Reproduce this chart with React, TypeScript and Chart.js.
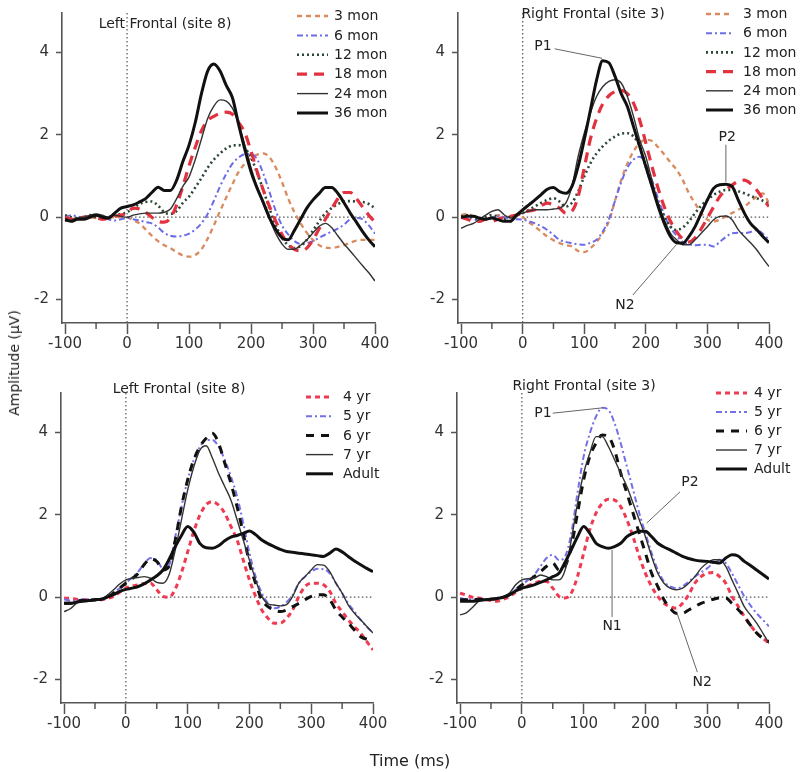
import React, { useEffect, useRef } from 'react';
import { Chart, registerables } from 'chart.js';

Chart.register(...registerables);

// ---------------- DATA ----------------
const TIME_MS = [
  -100, -90, -80, -70, -60, -50, -40, -30, -20, -10,
  0, 10, 20, 30, 40, 50, 60, 70, 80, 90,
  100, 110, 120, 130, 140, 150, 160, 170, 180, 190,
  200, 210, 220, 230, 240, 250, 260, 270, 280, 290,
  300, 310, 320, 330, 340, 350, 360, 370, 380, 390, 400,
];
const X_TICKS = [-100, -50, 0, 50, 100, 150, 200, 250, 300, 350, 400];
const Y_TICKS = [-2, 0, 2, 4];

const MONTH_LABELS = ['3 mon', '6 mon', '12 mon', '18 mon', '24 mon', '36 mon'];
const YEAR_LABELS = ['4 yr', '5 yr', '6 yr', '7 yr', 'Adult'];

// Left Frontal (site 8), infants/toddlers
const LF_3MON = [-0.05, -0.08, -0.02, 0, 0, -0.02, -0.05, -0.02, 0, 0, 0, -0.08, -0.15, -0.3, -0.45, -0.58, -0.68, -0.75, -0.85, -0.93, -0.96, -0.92, -0.78, -0.52, -0.2, 0.15, 0.48, 0.8, 1.1, 1.3, 1.43, 1.52, 1.55, 1.45, 1.2, 0.85, 0.45, 0.12, -0.15, -0.38, -0.55, -0.68, -0.74, -0.75, -0.72, -0.68, -0.62, -0.57, -0.55, -0.55, -0.55];
const LF_6MON = [0, 0.05, 0.02, -0.02, 0, 0.05, 0.02, -0.05, -0.08, -0.05, -0.02, -0.05, -0.08, -0.12, -0.15, -0.25, -0.38, -0.45, -0.47, -0.45, -0.4, -0.3, -0.15, 0.08, 0.4, 0.75, 1.05, 1.3, 1.45, 1.53, 1.54, 1.4, 1.05, 0.6, 0.15, -0.2, -0.42, -0.58, -0.65, -0.63, -0.58, -0.5, -0.42, -0.35, -0.28, -0.18, -0.05, -0.02, -0.05, -0.2, -0.4];
const LF_12MON = [0.05, 0, -0.02, 0, 0.05, 0, -0.02, 0, 0.05, 0.08, 0.12, 0.22, 0.32, 0.37, 0.38, 0.28, 0.12, 0.08, 0.15, 0.35, 0.5, 0.72, 0.95, 1.2, 1.4, 1.55, 1.67, 1.74, 1.75, 1.68, 1.45, 1.07, 0.65, 0.2, -0.2, -0.5, -0.68, -0.75, -0.7, -0.55, -0.32, -0.1, 0.1, 0.22, 0.32, 0.38, 0.39, 0.38, 0.37, 0.32, 0.22];
const LF_18MON = [0, -0.05, -0.05, 0, 0, -0.02, -0.05, -0.02, 0.02, 0.05, 0.1, 0.22, 0.2, 0.12, 0, -0.1, -0.12, -0.02, 0.3, 0.75, 1.25, 1.7, 2.1, 2.35, 2.45, 2.52, 2.55, 2.5, 2.3, 2.05, 1.6, 1.1, 0.65, 0.25, -0.1, -0.42, -0.65, -0.78, -0.82, -0.75, -0.55, -0.28, -0.05, 0.2, 0.45, 0.6, 0.6, 0.45, 0.25, 0.05, -0.12];
const LF_24MON = [-0.1, -0.08, -0.02, 0, 0.05, 0.08, 0.05, 0, 0.05, 0.02, 0, 0.05, 0.08, 0.1, 0.1, 0.1, 0.12, 0.2, 0.45, 0.75, 0.98, 1.4, 1.9, 2.4, 2.7, 2.85, 2.82, 2.65, 2.25, 1.75, 1.2, 0.72, 0.3, -0.05, -0.4, -0.65, -0.78, -0.78, -0.68, -0.55, -0.38, -0.22, -0.15, -0.25, -0.45, -0.65, -0.82, -1.0, -1.18, -1.35, -1.55];
const LF_36MON = [-0.05, -0.1, -0.05, -0.05, 0, 0.05, 0, -0.02, 0.1, 0.22, 0.26, 0.3, 0.37, 0.45, 0.6, 0.73, 0.65, 0.65, 0.9, 1.35, 1.75, 2.3, 3.0, 3.55, 3.72, 3.55, 3.2, 2.9, 2.25, 1.65, 1.1, 0.7, 0.35, -0.02, -0.3, -0.5, -0.55, -0.32, -0.05, 0.22, 0.42, 0.58, 0.72, 0.72, 0.58, 0.35, 0.1, -0.12, -0.35, -0.55, -0.72];

// Right Frontal (site 3), infants/toddlers
const RF_3MON = [0.05, 0.08, 0.02, -0.05, -0.05, 0, 0.05, 0.02, 0, 0.02, 0, -0.12, -0.23, -0.35, -0.47, -0.56, -0.63, -0.68, -0.71, -0.82, -0.85, -0.75, -0.6, -0.39, -0.1, 0.4, 0.9, 1.3, 1.6, 1.8, 1.88, 1.85, 1.7, 1.52, 1.33, 1.15, 0.9, 0.58, 0.34, 0.1, -0.06, -0.1, -0.06, 0.02, 0.1, 0.18, 0.26, 0.38, 0.5, 0.58, 0.34];
const RF_6MON = [0, 0, -0.05, -0.08, -0.05, 0, 0.02, 0, -0.05, -0.05, -0.06, -0.1, -0.15, -0.22, -0.31, -0.43, -0.55, -0.6, -0.63, -0.66, -0.67, -0.62, -0.55, -0.35, -0.05, 0.4, 0.85, 1.2, 1.4, 1.47, 1.3, 0.9, 0.45, 0.05, -0.25, -0.45, -0.6, -0.66, -0.68, -0.67, -0.67, -0.71, -0.6, -0.48, -0.39, -0.38, -0.39, -0.36, -0.31, -0.4, -0.55];
const RF_12MON = [0.02, 0.05, 0, -0.05, 0, 0.05, 0, -0.05, 0.02, 0.05, 0.1, 0.18, 0.26, 0.35, 0.42, 0.46, 0.38, 0.26, 0.35, 0.62, 0.99, 1.31, 1.55, 1.72, 1.86, 1.96, 2.03, 2.04, 1.96, 1.72, 1.23, 0.75, 0.34, 0.02, -0.23, -0.31, -0.25, -0.1, 0.1, 0.28, 0.42, 0.54, 0.62, 0.66, 0.66, 0.63, 0.58, 0.52, 0.46, 0.4, 0.32];
const RF_18MON = [0, -0.05, -0.1, -0.1, -0.05, -0.1, -0.05, 0, 0.02, 0.05, 0.1, 0.15, 0.18, 0.28, 0.34, 0.3, 0.22, 0.1, 0.15, 0.5, 1.2, 1.9, 2.4, 2.75, 2.95, 3.05, 3.08, 3.0, 2.77, 2.36, 1.8, 1.23, 0.7, 0.25, -0.1, -0.35, -0.53, -0.6, -0.5, -0.28, -0.02, 0.25, 0.5, 0.66, 0.78, 0.87, 0.9, 0.82, 0.66, 0.45, 0.26];
const RF_24MON = [-0.27, -0.2, -0.15, -0.05, 0.05, 0.14, 0.18, 0.06, -0.02, 0.05, 0.1, 0.15, 0.18, 0.18, 0.18, 0.2, 0.22, 0.34, 0.75, 1.47, 2.04, 2.53, 2.93, 3.17, 3.3, 3.34, 3.26, 2.93, 2.45, 1.88, 1.47, 0.9, 0.34, -0.06, -0.39, -0.55, -0.67, -0.67, -0.55, -0.39, -0.23, -0.06, 0.02, 0.03, -0.06, -0.3, -0.47, -0.62, -0.79, -1.0, -1.2];
const RF_36MON = [0, 0.02, 0.02, -0.02, -0.05, -0.02, -0.06, -0.1, -0.1, 0.05, 0.18, 0.3, 0.42, 0.55, 0.68, 0.72, 0.62, 0.58, 0.75, 1.23, 1.88, 2.6, 3.33, 3.8, 3.75, 3.42, 3.0, 2.69, 2.2, 1.72, 1.23, 0.75, 0.26, -0.15, -0.47, -0.62, -0.63, -0.47, -0.23, 0.1, 0.42, 0.7, 0.79, 0.8, 0.75, 0.42, 0.1, -0.15, -0.3, -0.47, -0.62];

// Left Frontal (site 8), children/adults
const LF_4YR = [-0.02, -0.03, -0.05, -0.06, -0.06, -0.06, -0.06, -0.03, 0.02, 0.12, 0.22, 0.27, 0.3, 0.33, 0.34, 0.18, 0.02, 0, 0.2, 0.6, 1.1, 1.6, 2.0, 2.25, 2.32, 2.24, 2.04, 1.72, 1.39, 0.9, 0.42, 0.02, -0.31, -0.51, -0.63, -0.63, -0.51, -0.31, 0.02, 0.26, 0.34, 0.34, 0.3, 0.14, -0.15, -0.35, -0.55, -0.72, -0.87, -1.08, -1.28];
const LF_5YR = [-0.05, -0.08, -0.08, -0.05, -0.05, -0.05, -0.06, 0, 0.1, 0.22, 0.34, 0.48, 0.62, 0.82, 0.95, 0.9, 0.7, 0.78, 1.47, 2.2, 2.85, 3.34, 3.66, 3.82, 3.82, 3.66, 3.34, 2.93, 2.45, 1.8, 1.07, 0.5, 0.1, -0.15, -0.27, -0.23, -0.12, 0.06, 0.34, 0.5, 0.62, 0.69, 0.68, 0.58, 0.34, 0.1, -0.15, -0.35, -0.55, -0.72, -0.87];
const LF_6YR = [-0.15, -0.15, -0.1, -0.08, -0.08, -0.06, -0.05, 0, 0.1, 0.22, 0.34, 0.45, 0.58, 0.8, 0.93, 0.87, 0.66, 0.75, 1.39, 2.2, 2.85, 3.34, 3.66, 3.86, 3.98, 3.74, 3.26, 2.77, 2.2, 1.55, 0.83, 0.34, -0.06, -0.23, -0.31, -0.35, -0.31, -0.23, -0.15, -0.06, 0.02, 0.06, 0.06, -0.06, -0.31, -0.48, -0.63, -0.8, -0.96, -1.02, -1.04];
const LF_7YR = [-0.35, -0.28, -0.15, -0.1, -0.1, -0.08, -0.05, 0.05, 0.18, 0.32, 0.42, 0.46, 0.48, 0.5, 0.46, 0.36, 0.34, 0.55, 1.15, 1.88, 2.6, 3.17, 3.58, 3.68, 3.38, 3.01, 2.69, 2.36, 1.88, 1.39, 0.9, 0.42, 0.02, -0.16, -0.19, -0.21, -0.18, 0.02, 0.34, 0.5, 0.66, 0.79, 0.78, 0.62, 0.34, 0.1, -0.19, -0.39, -0.55, -0.71, -0.87];
const LF_ADULT = [-0.15, -0.15, -0.12, -0.1, -0.08, -0.06, -0.05, 0, 0.06, 0.14, 0.19, 0.22, 0.26, 0.33, 0.42, 0.52, 0.66, 0.92, 1.23, 1.5, 1.72, 1.58, 1.3, 1.2, 1.19, 1.25, 1.37, 1.46, 1.5, 1.55, 1.61, 1.52, 1.39, 1.3, 1.23, 1.16, 1.11, 1.09, 1.07, 1.05, 1.03, 1.01, 0.99, 1.07, 1.17, 1.1, 0.99, 0.88, 0.79, 0.7, 0.62];

// Right Frontal (site 3), children/adults
const RF_4YR = [0.1, 0.05, 0, -0.02, -0.05, -0.08, -0.1, -0.05, 0.02, 0.12, 0.22, 0.28, 0.34, 0.38, 0.38, 0.22, 0.02, -0.02, 0.1, 0.5, 1.07, 1.64, 2.04, 2.28, 2.38, 2.36, 2.2, 1.88, 1.47, 0.99, 0.58, 0.26, 0.02, -0.15, -0.23, -0.27, -0.15, 0.06, 0.34, 0.5, 0.58, 0.6, 0.5, 0.34, 0.02, -0.22, -0.47, -0.68, -0.87, -1.0, -1.12];
const RF_5YR = [-0.02, -0.05, -0.05, -0.05, -0.05, -0.04, -0.03, 0, 0.06, 0.18, 0.3, 0.42, 0.54, 0.75, 0.95, 1.03, 0.9, 0.99, 1.55, 2.53, 3.42, 3.98, 4.39, 4.6, 4.55, 4.23, 3.74, 3.17, 2.61, 2.04, 1.55, 1.07, 0.66, 0.38, 0.26, 0.22, 0.26, 0.38, 0.5, 0.6, 0.7, 0.83, 0.91, 0.83, 0.58, 0.3, 0.02, -0.2, -0.39, -0.55, -0.71];
const RF_6YR = [-0.06, -0.06, -0.06, -0.05, -0.06, -0.05, -0.03, 0, 0.06, 0.18, 0.3, 0.4, 0.5, 0.62, 0.75, 0.83, 0.66, 0.75, 1.23, 2.04, 2.85, 3.42, 3.74, 3.94, 3.9, 3.58, 3.01, 2.53, 2.04, 1.55, 1.07, 0.58, 0.26, -0.06, -0.27, -0.39, -0.39, -0.31, -0.23, -0.15, -0.1, -0.05, -0.02, -0.02, -0.15, -0.3, -0.47, -0.68, -0.87, -1.0, -1.08];
const RF_7YR = [-0.43, -0.38, -0.25, -0.1, -0.06, -0.04, -0.03, 0.02, 0.1, 0.3, 0.42, 0.45, 0.46, 0.54, 0.5, 0.42, 0.42, 0.66, 1.39, 2.28, 3.01, 3.5, 3.9, 3.9, 3.66, 3.34, 3.01, 2.69, 2.28, 1.88, 1.47, 0.99, 0.58, 0.34, 0.22, 0.18, 0.22, 0.34, 0.5, 0.7, 0.83, 0.91, 0.91, 0.75, 0.42, 0.1, -0.23, -0.43, -0.63, -0.87, -1.12];
const RF_ADULT = [-0.1, -0.1, -0.1, -0.08, -0.06, -0.05, -0.03, 0, 0.06, 0.15, 0.22, 0.26, 0.3, 0.36, 0.42, 0.5, 0.58, 0.85, 1.15, 1.47, 1.72, 1.55, 1.31, 1.23, 1.19, 1.23, 1.31, 1.47, 1.55, 1.6, 1.6, 1.47, 1.31, 1.22, 1.15, 1.07, 0.99, 0.94, 0.9, 0.88, 0.87, 0.85, 0.83, 0.95, 1.03, 1.0, 0.87, 0.77, 0.66, 0.55, 0.44];

// Annotation labels (data coordinates: ms, µV)
const RF_MON_NOTES = [
  { text: 'P1', at: [33, 4.14], from: [52, 4.09], to: [129, 3.86] },
  { text: 'N2', at: [166, -2.13], from: [179, -1.89], to: [250, -0.66] },
  { text: 'P2', at: [332, 1.95], from: [330, 1.76], to: [330, 0.86] },
];
const RF_YR_NOTES = [
  { text: 'P1', at: [34, 4.47], from: [50, 4.47], to: [131, 4.6] },
  { text: 'P2', at: [272, 2.78], from: [256, 2.56], to: [202, 1.8] },
  { text: 'N1', at: [146, -0.72], from: [146, -0.48], to: [146, 1.15] },
  { text: 'N2', at: [292, -2.06], from: [284, -1.82], to: [251, -0.38] },
];

// ---------------- STYLES ----------------
const FONT = '"DejaVu Sans", Verdana, sans-serif';
const STYLE: Record<string, { color: string; width: number; dash: number[] }> = {
  '3 mon': { color: '#d98a5e', width: 2.3, dash: [5, 4] },
  '6 mon': { color: '#6c6ce8', width: 2, dash: [6, 3, 2, 3] },
  '12 mon': { color: '#2c4636', width: 2.6, dash: [2, 3] },
  '18 mon': { color: '#e2323f', width: 3.2, dash: [10, 7] },
  '24 mon': { color: '#333333', width: 1.4, dash: [] },
  '36 mon': { color: '#111111', width: 3, dash: [] },
  '4 yr': { color: '#f03a52', width: 3, dash: [5, 4] },
  '5 yr': { color: '#7470e8', width: 2, dash: [6, 3, 2, 3] },
  '6 yr': { color: '#111111', width: 3, dash: [8, 7] },
  '7 yr': { color: '#333333', width: 1.4, dash: [] },
  'Adult': { color: '#111111', width: 3, dash: [] },
};

type Panel = {
  title: string;
  labels: string[];
  series: number[][];
  notes: { text: string; at: number[]; from: number[]; to: number[] }[];
  box: { left: number; top: number; w: number; h: number };
  area: { left: number; right: number; top: number; bottom: number };
  titlePos: number[];
  legend: { x1: number; x2: number; tx: number; y: number; dy: number };
};

const PANELS: Panel[] = [
  {
    title: 'Left Frontal (site 8)', labels: MONTH_LABELS,
    series: [LF_3MON, LF_6MON, LF_12MON, LF_18MON, LF_24MON, LF_36MON], notes: [],
    box: { left: 0, top: 0, w: 400, h: 372 },
    area: { left: 62, right: 375, top: 13, bottom: 323 },
    titlePos: [165, 24],
    legend: { x1: 297, x2: 328, tx: 334, y: 16, dy: 19.4 },
  },
  {
    title: 'Right Frontal (site 3)', labels: MONTH_LABELS,
    series: [RF_3MON, RF_6MON, RF_12MON, RF_18MON, RF_24MON, RF_36MON], notes: RF_MON_NOTES,
    box: { left: 400, top: 0, w: 400, h: 372 },
    area: { left: 58, right: 369, top: 13, bottom: 323 },
    titlePos: [193, 14],
    legend: { x1: 306, x2: 333, tx: 343, y: 14, dy: 19.2 },
  },
  {
    title: 'Left Frontal (site 8)', labels: YEAR_LABELS,
    series: [LF_4YR, LF_5YR, LF_6YR, LF_7YR, LF_ADULT], notes: [],
    box: { left: 0, top: 372, w: 400, h: 400 },
    area: { left: 61, right: 373, top: 21, bottom: 331 },
    titlePos: [179, 17],
    legend: { x1: 306, x2: 333, tx: 343, y: 25, dy: 19.2 },
  },
  {
    title: 'Right Frontal (site 3)', labels: YEAR_LABELS,
    series: [RF_4YR, RF_5YR, RF_6YR, RF_7YR, RF_ADULT], notes: RF_YR_NOTES,
    box: { left: 400, top: 372, w: 400, h: 400 },
    area: { left: 57, right: 369, top: 21, bottom: 331 },
    titlePos: [184, 14],
    legend: { x1: 316, x2: 347, tx: 354, y: 21, dy: 19 },
  },
];

const Y_AXIS_W = 50;
const X_AXIS_H = 40;

const overlay = {
  id: 'overlay',
  beforeDatasetsDraw(chart: any) {
    const { ctx, chartArea, scales } = chart;
    const x0 = scales.x.getPixelForValue(0);
    const y0 = scales.y.getPixelForValue(0);
    ctx.save();
    ctx.strokeStyle = '#555';
    ctx.lineWidth = 1.2;
    ctx.setLineDash([1.5, 2.5]);
    ctx.beginPath();
    ctx.moveTo(x0, chartArea.top);
    ctx.lineTo(x0, chartArea.bottom);
    ctx.stroke();
    ctx.beginPath();
    ctx.moveTo(x0, y0);
    ctx.lineTo(chartArea.right, y0);
    ctx.stroke();
    ctx.restore();
  },
  afterDraw(chart: any) {
    const opts = chart.options.plugins.overlay;
    const p: Panel = opts.panel;
    const { ctx, chartArea, scales } = chart;
    ctx.save();
    // minor x ticks
    ctx.strokeStyle = '#555';
    ctx.lineWidth = 1.5;
    ctx.setLineDash([]);
    X_TICKS.forEach((v) => {
      if (v % 100 !== 0) {
        const px = scales.x.getPixelForValue(v);
        ctx.beginPath();
        ctx.moveTo(px, chartArea.bottom);
        ctx.lineTo(px, chartArea.bottom + 6);
        ctx.stroke();
      }
    });
    // title
    ctx.fillStyle = '#222';
    ctx.font = `14px ${FONT}`;
    ctx.textAlign = 'center';
    ctx.textBaseline = 'middle';
    ctx.fillText(p.title, p.titlePos[0], p.titlePos[1]);
    // legend
    p.labels.forEach((lab, i) => {
      const st = STYLE[lab];
      const y = p.legend.y + i * p.legend.dy;
      ctx.strokeStyle = st.color;
      ctx.lineWidth = st.width;
      ctx.setLineDash(st.dash);
      ctx.beginPath();
      ctx.moveTo(p.legend.x1, y);
      ctx.lineTo(p.legend.x2, y);
      ctx.stroke();
      ctx.setLineDash([]);
      ctx.fillStyle = '#222';
      ctx.textAlign = 'left';
      ctx.fillText(lab, p.legend.tx, y + 0.5);
    });
    // annotations
    p.notes.forEach((n) => {
      ctx.strokeStyle = '#666';
      ctx.lineWidth = 1;
      ctx.setLineDash([]);
      ctx.beginPath();
      ctx.moveTo(scales.x.getPixelForValue(n.from[0]), scales.y.getPixelForValue(n.from[1]));
      ctx.lineTo(scales.x.getPixelForValue(n.to[0]), scales.y.getPixelForValue(n.to[1]));
      ctx.stroke();
      ctx.fillStyle = '#222';
      ctx.textAlign = 'center';
      ctx.fillText(n.text, scales.x.getPixelForValue(n.at[0]), scales.y.getPixelForValue(n.at[1]));
    });
    ctx.restore();
  },
};

function PanelChart({ panel }: { panel: Panel }) {
  const ref = useRef<HTMLCanvasElement>(null);
  useEffect(() => {
    if (!ref.current) return;
    const { box, area } = panel;
    const datasets = panel.labels.map((lab, i) => {
      const st = STYLE[lab];
      return {
        label: lab,
        data: TIME_MS.map((t, k) => ({ x: t, y: panel.series[i][k] })),
        borderColor: st.color,
        borderWidth: st.width,
        borderDash: st.dash,
        pointRadius: 0,
        fill: false,
        cubicInterpolationMode: 'monotone' as const,
        order: panel.labels.length - i,
      };
    });
    const chart = new Chart(ref.current, {
      type: 'line',
      data: { datasets },
      plugins: [overlay as any],
      options: {
        animation: false,
        responsive: false,
        maintainAspectRatio: false,
        events: [],
        layout: {
          padding: {
            left: area.left - Y_AXIS_W,
            right: box.w - area.right,
            top: area.top,
            bottom: box.h - area.bottom - X_AXIS_H,
          },
        },
        plugins: {
          legend: { display: false },
          tooltip: { enabled: false },
          title: { display: false },
          overlay: { panel },
        } as any,
        scales: {
          x: {
            type: 'linear',
            min: -105,
            max: 400,
            afterBuildTicks: (s: any) => { s.ticks = X_TICKS.map((v) => ({ value: v })); },
            afterFit: (s: any) => { s.height = X_AXIS_H; s.paddingLeft = 0; s.paddingRight = 0; },
            grid: {
              drawOnChartArea: false,
              drawTicks: true,
              tickLength: 11,
              tickWidth: 1.5,
              tickColor: (c: any) => (c.tick && c.tick.value % 100 === 0 ? '#555' : 'rgba(0,0,0,0)'),
            },
            border: { display: true, color: '#555', width: 1.6 },
            ticks: {
              autoSkip: false,
              maxRotation: 0,
              padding: 1,
              color: '#333',
              font: { family: FONT, size: 15 },
              callback: (v: any) => (Number(v) % 100 === 0 ? String(v) : ''),
            },
          },
          y: {
            type: 'linear',
            min: -2.57,
            max: 4.96,
            afterBuildTicks: (s: any) => { s.ticks = Y_TICKS.map((v) => ({ value: v })); },
            afterFit: (s: any) => { s.width = Y_AXIS_W; s.paddingTop = 0; s.paddingBottom = 0; },
            grid: { drawOnChartArea: false, drawTicks: true, tickLength: 6, tickWidth: 1.5, tickColor: '#555' },
            border: { display: true, color: '#555', width: 1.6 },
            ticks: {
              padding: 7,
              color: '#333',
              font: { family: FONT, size: 15 },
              callback: (v: any) => String(v),
            },
          },
        },
      } as any,
    });
    return () => chart.destroy();
  }, [panel]);
  const { box } = panel;
  return (
    <canvas
      ref={ref}
      width={box.w}
      height={box.h}
      style={{ position: 'absolute', left: box.left, top: box.top, width: box.w, height: box.h }}
    />
  );
}

export default function App() {
  return (
    <div style={{ position: 'absolute', left: 0, top: 0, width: 800, height: 772, background: '#fff', overflow: 'hidden' }}>
      {PANELS.map((p, i) => (
        <PanelChart key={i} panel={p} />
      ))}
      <div
        style={{
          position: 'absolute', left: 14, top: 363, transform: 'translate(-50%, -50%) rotate(-90deg)',
          font: `14px ${FONT}`, color: '#222', whiteSpace: 'nowrap',
        }}
      >
        Amplitude (µV)
      </div>
      <div
        style={{
          position: 'absolute', left: 410, top: 760, transform: 'translate(-50%, -50%)',
          font: `16px ${FONT}`, color: '#222', whiteSpace: 'nowrap',
        }}
      >
        Time (ms)
      </div>
    </div>
  );
}
